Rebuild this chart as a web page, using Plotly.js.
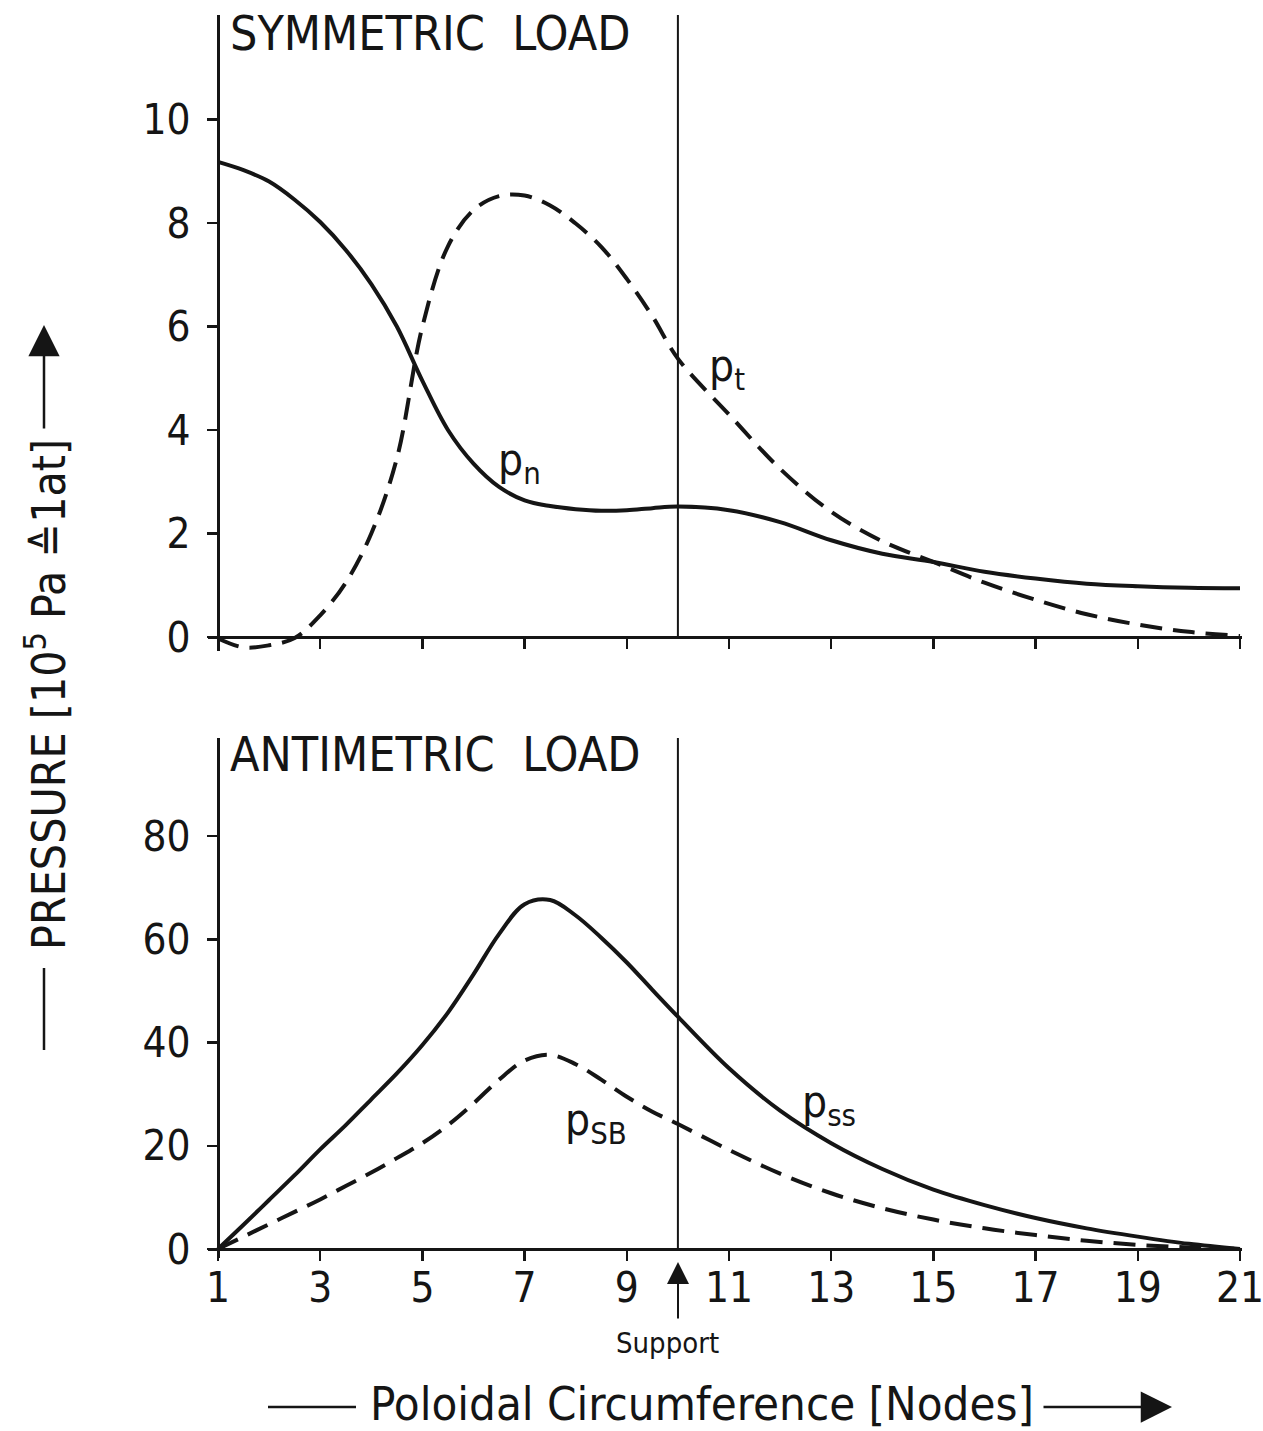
<!DOCTYPE html>
<html>
<head>
<meta charset="utf-8">
<script src="https://cdn.plot.ly/plotly-3.0.1.min.js"></script>
<style>html,body{margin:0;padding:0;background:#fff;}#chart{width:1263px;height:1431px;}</style>
</head>
<body>
<div id="chart"></div>
<script>
// ---------- data ----------
const supportNode = 10;
const xTickVals = [1,3,5,7,9,11,13,15,17,19,21];
const xTickText = ["1","3","5","7","9","11","13","15","17","19","21"];
const topTickVals = [0,2,4,6,8,10];
const bottomTickVals = [0,20,40,60,80];

// node positions at which the curves were read
const nodes = [1,1.5,2,2.5,3,3.5,4,4.5,5,5.5,6,6.5,7,7.5,8,8.5,9,9.5,10,11,12,13,14,15,16,17,18,19,20,21];

// symmetric load
const pnValues  = [9.18,9.02,8.8,8.45,8.02,7.48,6.82,6.0,4.95,4.0,3.35,2.9,2.64,2.53,2.47,2.44,2.45,2.49,2.52,2.45,2.22,1.87,1.61,1.45,1.26,1.13,1.03,0.98,0.95,0.94];
const ptValues  = [-0.03,-0.2,-0.16,-0.02,0.42,1.05,2.0,3.45,6.0,7.55,8.25,8.52,8.53,8.34,7.99,7.54,6.92,6.2,5.38,4.3,3.25,2.42,1.85,1.45,1.05,0.72,0.44,0.24,0.1,0.02];

// antimetric load
const pssValues = [0,4.7,9.5,14.3,19.3,24,29,34,39.5,45.8,53.2,61.0,66.8,67.6,64.6,60.3,55.5,50.2,45,35,26.8,20.5,15.5,11.5,8.5,6.0,4.0,2.4,1.0,0];
const psbValues = [0,2.4,4.8,7.2,9.6,12.2,14.8,17.6,20.5,24,28.2,32.8,36.5,37.6,35.8,32.8,29.5,26.6,24.2,19.2,14.6,10.8,7.9,5.7,4.0,2.7,1.6,0.8,0.3,0];

// ---------- layout helpers (pixel -> paper) ----------
const W = 1263, H = 1431;
const PX = p => p / W;
const PY = p => 1 - p / H;
const INK = "#151515";
const FONT = "'Liberation Sans Narrow', 'DejaVu Sans Condensed', 'Roboto', sans-serif";
const dash = "22px,11px";
const lineStyle = {color: INK, width: 4, shape: "spline", smoothing: 1};

const traces = [
  {x: nodes, y: pnValues, xaxis: "x", yaxis: "y", mode: "lines", name: "p_n", line: lineStyle},
  {x: nodes, y: ptValues, xaxis: "x", yaxis: "y", mode: "lines", name: "p_t",
   line: Object.assign({}, lineStyle, {dash: dash})},
  {x: nodes, y: pssValues, xaxis: "x2", yaxis: "y2", mode: "lines", name: "p_ss", line: lineStyle},
  {x: nodes, y: psbValues, xaxis: "x2", yaxis: "y2", mode: "lines", name: "p_SB",
   line: Object.assign({}, lineStyle, {dash: dash})}
];

const xRange = [1 - 10/51.1, 21 + 2/51.1];
const xDomain = [PX(208), PX(1242)];

const axisCommon = {
  showgrid: false, zeroline: false, showline: true, linecolor: INK, linewidth: 2.5,
  ticks: "outside", ticklen: 10, tickwidth: 2.5, tickcolor: INK, ticklabeloverflow: "allow"
};

const topRange = [-(651-637)/51.75, (637-15)/51.75];
const botRange = [-(1258-1249)/5.1625, (1249-738)/5.1625];

const txt = (x, y, text, size, extra) => Object.assign({
  xref: "paper", yref: "paper", x: PX(x), y: PY(y), xanchor: "center", yanchor: "middle",
  text: text, showarrow: false, font: {size: size, family: FONT, color: INK}
}, extra || {});

const arrow = (x, y, ax, ay, size, width) => ({
  xref: "paper", yref: "paper", x: PX(x), y: PY(y), ax: ax, ay: ay, text: "",
  showarrow: true, arrowhead: 2, arrowsize: size, arrowwidth: width, arrowcolor: INK
});

const layout = {
  width: W, height: H,
  margin: {l: 0, r: 0, t: 0, b: 0},
  paper_bgcolor: "#fff", plot_bgcolor: "rgba(0,0,0,0)",
  showlegend: false,
  font: {family: FONT, color: INK},
  xaxis: Object.assign({}, axisCommon, {
    domain: xDomain, range: xRange, anchor: "free", position: PY(637),
    tickmode: "array", tickvals: xTickVals, showticklabels: false
  }),
  yaxis: Object.assign({}, axisCommon, {
    domain: [PY(651), PY(15)], range: topRange, anchor: "free", position: PX(218),
    tickmode: "array", tickvals: topTickVals, ticktext: topTickVals.map(String),
    tickfont: {size: 42, family: FONT, color: INK}, ticklabelstandoff: 8
  }),
  xaxis2: Object.assign({}, axisCommon, {
    domain: xDomain, range: xRange, anchor: "free", position: PY(1249),
    tickmode: "array", tickvals: xTickVals, ticktext: xTickText,
    tickfont: {size: 42, family: FONT, color: INK}, ticklabelstandoff: -9
  }),
  yaxis2: Object.assign({}, axisCommon, {
    domain: [PY(1258), PY(738)], range: botRange, anchor: "free", position: PX(218),
    tickmode: "array", tickvals: bottomTickVals, ticktext: bottomTickVals.map(String),
    tickfont: {size: 42, family: FONT, color: INK}, ticklabelstandoff: 8
  }),
  shapes: [
    {type: "line", xref: "x", yref: "y", x0: supportNode, x1: supportNode, y0: 0, y1: topRange[1],
     line: {color: INK, width: 2}},
    {type: "line", xref: "x2", yref: "y2", x0: supportNode, x1: supportNode, y0: 0, y1: botRange[1],
     line: {color: INK, width: 2}},
    {type: "line", xref: "paper", yref: "paper", x0: PX(44), x1: PX(44), y0: PY(968), y1: PY(1050),
     line: {color: INK, width: 2.5}},
    {type: "line", xref: "paper", yref: "paper", x0: PX(268), x1: PX(356), y0: PY(1407), y1: PY(1407),
     line: {color: INK, width: 2.5}}
  ],
  annotations: [
    txt(228, 33, "SYMMETRIC  LOAD", 48, {xanchor: "left"}),
    txt(228, 754, "ANTIMETRIC  LOAD", 48, {xanchor: "left"}),
    {xref: "x", yref: "y", x: 6.9, y: 3.38, text: "p<sub>n</sub>", showarrow: false,
     font: {size: 44, family: FONT, color: INK}},
    {xref: "x", yref: "y", x: 10.96, y: 5.19, text: "p<sub>t</sub>", showarrow: false,
     font: {size: 44, family: FONT, color: INK}},
    {xref: "x2", yref: "y2", x: 12.96, y: 27.9, text: "p<sub>ss</sub>", showarrow: false,
     font: {size: 44, family: FONT, color: INK}},
    {xref: "x2", yref: "y2", x: 8.4, y: 24.6, text: "p<sub>SB</sub>", showarrow: false,
     font: {size: 44, family: FONT, color: INK}},
    txt(668, 1343, "Support", 29),
    arrow(678, 1262, 0, 58, 2.2, 2),
    txt(46, 695, "PRESSURE [10<sup>5</sup> Pa \u22591at]", 46, {textangle: -90}),
    arrow(44, 325, 0, 105, 2.5, 2.5),
    txt(702, 1403, "Poloidal Circumference [Nodes]", 47),
    arrow(1172, 1407, -130, 0, 2.5, 2.5)
  ]
};

Plotly.newPlot("chart", traces, layout, {staticPlot: true, displayModeBar: false});
</script>
</body>
</html>
